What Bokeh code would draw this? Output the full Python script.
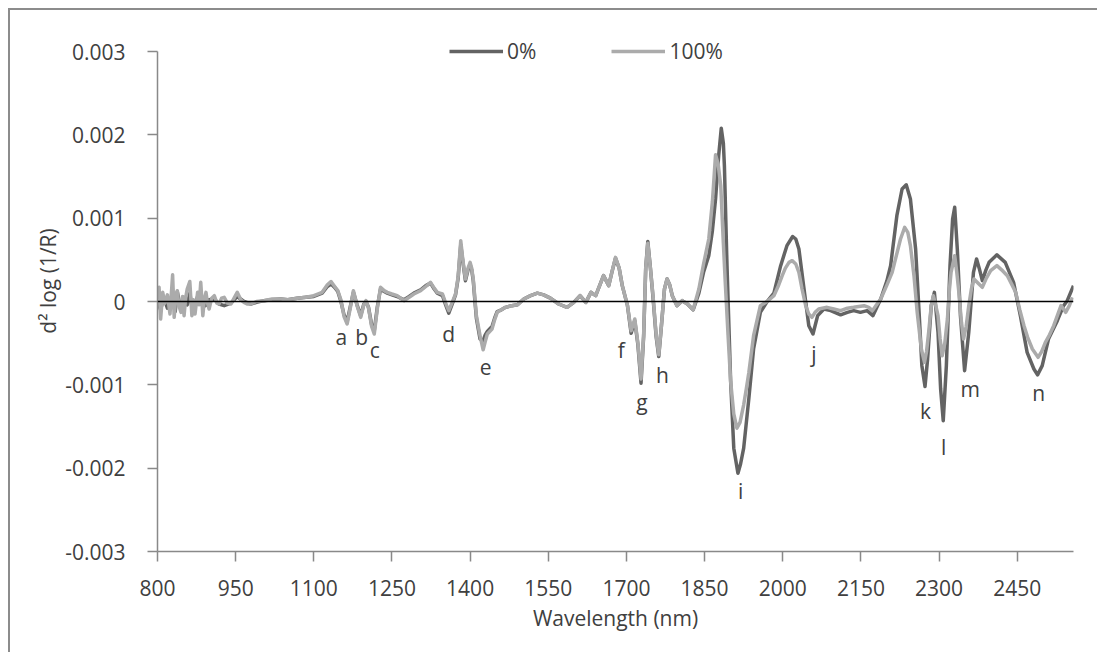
from bokeh.plotting import figure
from bokeh.models import (Range1d, FixedTicker, CustomJSTickFormatter, Span, Legend,
                          LegendItem, ColumnDataSource)
from bokeh.core.properties import value
from bokeh.embed import file_html
from bokeh.resources import INLINE

# ---------------- data ----------------
wl_100 = [800, 803, 806, 810, 814, 819, 824, 829, 832, 835, 838, 841, 845, 848, 851, 854, 857, 862,
          866, 869, 872, 877, 880, 883, 887, 890, 893, 896, 899, 904, 909, 914, 918, 923, 928, 934,
          941, 947, 953, 960, 966, 972, 979, 990, 1004, 1020, 1036, 1050, 1068, 1085, 1100, 1116,
          1126, 1133, 1140, 1146, 1152, 1158, 1164, 1170, 1176, 1183, 1190, 1196, 1200, 1205, 1211,
          1216, 1222, 1228, 1235, 1241, 1250, 1260, 1273, 1283, 1292, 1305, 1315, 1324, 1331, 1337,
          1347, 1353, 1359, 1365, 1372, 1377, 1382, 1386, 1391, 1396, 1400, 1403, 1406, 1409, 1412,
          1419, 1425, 1429, 1433, 1442, 1447, 1452, 1460, 1468, 1480, 1491, 1503, 1516, 1529, 1541,
          1554, 1570, 1586, 1599, 1611, 1622, 1632, 1641, 1656, 1666, 1672, 1679, 1686, 1692, 1702,
          1709, 1716, 1722, 1728, 1733, 1737, 1741, 1746, 1751, 1757, 1762, 1767, 1773, 1778, 1783,
          1788, 1797, 1807, 1817, 1828, 1839, 1848, 1858, 1865, 1871, 1876, 1881, 1886, 1890, 1895,
          1900, 1906, 1912, 1918, 1925, 1930, 1935, 1944, 1957, 1970, 1983, 1991, 1999, 2005, 2012,
          2018, 2025, 2031, 2037, 2044, 2050, 2056, 2062, 2069, 2085, 2098, 2111, 2124, 2136, 2156,
          2165, 2172, 2180, 2188, 2200, 2210, 2218, 2226, 2234, 2240, 2245, 2252, 2258, 2266, 2272,
          2276, 2280, 2285, 2289, 2293, 2298, 2302, 2306, 2311, 2316, 2320, 2323, 2330, 2334, 2338,
          2343, 2347, 2352, 2357, 2362, 2367, 2375, 2383, 2390, 2399, 2411, 2420, 2431, 2440, 2447,
          2455, 2463, 2470, 2479, 2490, 2497, 2504, 2512, 2520, 2527, 2534, 2539, 2543, 2550, 2556]
val_100 = [0.00003, 0.00017, -0.00021, 0.00011, -0.00002, 0.00008, -0.00015, 0.00032, -0.00019,
           0.00005, 0.00013, -0.00005, -0.00013, 0.00006, -0.00017, 0.00004, 0.00015, 0.00024,
           -0.00017, 0.00002, -0.00015, 0.00011, -0.00004, 0.00023, -0.00017, 0.00003, 0.00011,
           -0.00002, -0.00009, 0.00004, 0.00007, -0.00002, -0.00003, 0.00004, 0.00005, -0.00002,
           -0.00003, 0.00004, 0.00011, 0.00002, -0.00001, -0.00003, -0.00003, 0.00000, 0.00001,
           0.00003, 0.00003, 0.00002, 0.00004, 0.00005, 0.00007, 0.00011, 0.00020, 0.00024,
           0.00018, 0.00013, 0.00002, -0.00018, -0.00027, -0.00008, 0.00013, -0.00005, -0.00019,
           -0.00004, 0.00001, -0.00008, -0.00030, -0.00039, -0.00008, 0.00017, 0.00013, 0.00011,
           0.00009, 0.00007, 0.00001, 0.00005, 0.00009, 0.00013, 0.00018, 0.00023, 0.00016,
           0.00011, 0.00009, -0.00002, -0.00011, -0.00002, 0.00009, 0.00030, 0.00073, 0.00050,
           0.00027, 0.00040, 0.00047, 0.00040, 0.00027, 0.00005, -0.00017, -0.00041, -0.00058,
           -0.00048, -0.00039, -0.00033, -0.00022, -0.00013, -0.00010, -0.00007, -0.00005,
           -0.00004, 0.00003, 0.00007, 0.00010, 0.00008, 0.00004, -0.00003, -0.00007, -0.00001,
           0.00007, -0.00001, 0.00011, 0.00007, 0.00031, 0.00019, 0.00035, 0.00053, 0.00040,
           0.00019, -0.00005, -0.00035, -0.00021, -0.00050, -0.00093, -0.00040, 0.00040, 0.00070,
           0.00040, 0.00007, -0.00040, -0.00064, -0.00030, 0.00015, 0.00027, 0.00020, 0.00007,
           -0.00005, 0.00001, -0.00003, -0.00010, 0.00015, 0.00045, 0.00075, 0.00120, 0.00176,
           0.00165, 0.00139, 0.00070, 0.00019, -0.00040, -0.00096, -0.00135, -0.00152, -0.00145,
           -0.00124, -0.00105, -0.00085, -0.00041, -0.00005, 0.00000, 0.00007, 0.00018, 0.00031,
           0.00040, 0.00047, 0.00049, 0.00045, 0.00035, 0.00015, -0.00005, -0.00015, -0.00019,
           -0.00013, -0.00009, -0.00007, -0.00009, -0.00011, -0.00008, -0.00007, -0.00005,
           -0.00007, -0.00011, -0.00004, 0.00003, 0.00020, 0.00035, 0.00055, 0.00075, 0.00089,
           0.00083, 0.00067, 0.00030, -0.00013, -0.00057, -0.00073, -0.00060, -0.00037, -0.00005,
           0.00007, -0.00003, -0.00017, -0.00045, -0.00065, -0.00050, -0.00021, 0.00015, 0.00035,
           0.00055, 0.00035, 0.00011, -0.00025, -0.00045, -0.00030, -0.00005, 0.00015, 0.00027,
           0.00022, 0.00017, 0.00027, 0.00037, 0.00043, 0.00038, 0.00031, 0.00020, 0.00011,
           -0.00010, -0.00029, -0.00043, -0.00057, -0.00067, -0.00060, -0.00049, -0.00040,
           -0.00029, -0.00017, -0.00005, -0.00009, -0.00013, -0.00005, 0.00005]

wl_0 = [800, 806, 812, 819, 825, 829, 834, 838, 844, 851, 857, 862, 866, 871, 877, 883, 887, 892,
        899, 909, 918, 928, 941, 953, 966, 979, 990, 1004, 1020, 1036, 1050, 1068, 1085, 1100, 1116,
        1126, 1133, 1140, 1146, 1152, 1158, 1164, 1170, 1176, 1183, 1190, 1196, 1200, 1205, 1211,
        1216, 1222, 1228, 1235, 1241, 1250, 1260, 1273, 1283, 1292, 1305, 1315, 1324, 1331, 1337,
        1347, 1353, 1359, 1365, 1372, 1377, 1382, 1386, 1391, 1396, 1400, 1403, 1406, 1409, 1412,
        1419, 1425, 1429, 1433, 1442, 1447, 1452, 1460, 1468, 1480, 1491, 1503, 1516, 1529, 1541,
        1554, 1570, 1586, 1599, 1611, 1622, 1632, 1641, 1656, 1666, 1672, 1679, 1686, 1692, 1702,
        1709, 1716, 1722, 1728, 1733, 1737, 1741, 1746, 1751, 1757, 1762, 1767, 1773, 1778, 1783,
        1788, 1797, 1807, 1817, 1828, 1839, 1848, 1858, 1865, 1871, 1877, 1882, 1886, 1888, 1893,
        1900, 1906, 1914, 1919, 1925, 1935, 1944, 1957, 1970, 1983, 1996, 2008, 2019, 2025, 2031,
        2040, 2050, 2058, 2067, 2079, 2092, 2111, 2124, 2136, 2149, 2162, 2173, 2188, 2200, 2207,
        2219, 2229, 2237, 2245, 2255, 2262, 2267, 2273, 2278, 2285, 2291, 2298, 2303, 2308, 2314,
        2321, 2326, 2330, 2335, 2341, 2349, 2357, 2366, 2372, 2377, 2383, 2390, 2396, 2411, 2427,
        2443, 2456, 2469, 2482, 2489, 2498, 2510, 2527, 2539, 2546, 2558]
val_0 = [0.00000, -0.00010, 0.00005, -0.00008, 0.00002, 0.00008, -0.00012, 0.00012, -0.00008,
         0.00005, -0.00004, 0.00010, -0.00006, -0.00005, 0.00006, 0.00008, -0.00006, -0.00005,
         0.00002, 0.00003, -0.00003, -0.00005, -0.00002, 0.00006, 0.00000, -0.00003, -0.00001,
         0.00001, 0.00002, 0.00003, 0.00002, 0.00004, 0.00005, 0.00006, 0.00010, 0.00018, 0.00021,
         0.00017, 0.00012, 0.00000, -0.00016, -0.00024, -0.00006, 0.00011, -0.00004, -0.00017,
         -0.00003, 0.00000, -0.00007, -0.00028, -0.00035, -0.00006, 0.00015, 0.00012, 0.00010,
         0.00008, 0.00006, 0.00002, 0.00006, 0.00010, 0.00014, 0.00019, 0.00022, 0.00015, 0.00010,
         0.00007, -0.00004, -0.00014, -0.00004, 0.00008, 0.00028, 0.00068, 0.00048, 0.00025,
         0.00038, 0.00044, 0.00038, 0.00025, 0.00002, -0.00020, -0.00045, -0.00047, -0.00040,
         -0.00036, -0.00030, -0.00020, -0.00012, -0.00010, -0.00007, -0.00005, -0.00004, 0.00003,
         0.00007, 0.00010, 0.00008, 0.00004, -0.00003, -0.00007, -0.00001, 0.00007, -0.00001,
         0.00011, 0.00007, 0.00031, 0.00019, 0.00035, 0.00052, 0.00040, 0.00019, -0.00005,
         -0.00038, -0.00023, -0.00052, -0.00098, -0.00042, 0.00040, 0.00072, 0.00040, 0.00005,
         -0.00042, -0.00066, -0.00030, 0.00015, 0.00027, 0.00020, 0.00007, -0.00005, 0.00001,
         -0.00003, -0.00010, 0.00010, 0.00035, 0.00055, 0.00085, 0.00123, 0.00175, 0.00208,
         0.00190, 0.00163, 0.00043, -0.00096, -0.00176, -0.00206, -0.00195, -0.00176, -0.00116,
         -0.00057, -0.00013, 0.00000, 0.00010, 0.00043, 0.00067, 0.00078, 0.00075, 0.00063,
         0.00019, -0.00029, -0.00039, -0.00017, -0.00009, -0.00011, -0.00016, -0.00013, -0.00011,
         -0.00013, -0.00011, -0.00017, 0.00003, 0.00025, 0.00043, 0.00103, 0.00135, 0.00140,
         0.00123, 0.00063, -0.00017, -0.00077, -0.00102, -0.00069, -0.00005, 0.00011, -0.00037,
         -0.00105, -0.00143, -0.00077, 0.00043, 0.00099, 0.00113, 0.00063, -0.00017, -0.00083,
         -0.00037, 0.00035, 0.00051, 0.00040, 0.00025, 0.00038, 0.00047, 0.00056, 0.00047,
         0.00023, -0.00017, -0.00061, -0.00081, -0.00088, -0.00077, -0.00045, -0.00023, -0.00005,
         0.00001, 0.00019]

band_text = ["a", "b", "c", "d", "e", "f", "g", "h", "i", "j", "k", "l", "m", "n"]
band_x = [1153, 1192, 1217, 1359, 1430, 1690, 1730, 1769, 1919, 2060, 2274, 2309, 2360, 2491]
band_y = [-0.00042, -0.00042, -0.00058, -0.00039, -0.00078, -0.00058, -0.00121, -0.00088,
          -0.00227, -0.00063, -0.00131, -0.00175, -0.00105, -0.00110]

x_ticks = [800, 950, 1100, 1250, 1400, 1550, 1700, 1850, 2000, 2150, 2300, 2450]
y_ticks = [-0.003, -0.002, -0.001, 0, 0.001, 0.002, 0.003]

series_names = ["0%", "100%"]
series_colors = ["#636363", "#ababab"]

# ---------------- figure ----------------
FONT = "Open Sans"
TXT = "#404040"
AX = "#898989"

# frame: bottom 103 px above canvas bottom, top at canvas top (room for legend)
y_top = -0.003 + 0.006 * 541 / 500

p = figure(width=1089, height=644, output_backend="svg", toolbar_location=None,
           x_range=Range1d(800, 2558), y_range=Range1d(-0.003, y_top),
           min_border_left=147, min_border_right=26, min_border_top=0, min_border_bottom=103,
           background_fill_color="white", border_fill_color="white")
p.margin = (8, 0, 0, 8)
p.styles = {"border-left": "2px solid #8c8c8c", "border-top": "2px solid #8c8c8c"}
p.outline_line_color = None
p.grid.visible = False

r0 = p.line(wl_0, val_0, line_color=series_colors[0], line_width=3.5, line_join="round")
r1 = p.line(wl_100, val_100, line_color=series_colors[1], line_width=3.5, line_join="round")

p.add_layout(Span(location=0, dimension="width", line_color="black", line_width=1.5))

src = ColumnDataSource(dict(x=band_x, y=band_y, t=band_text))
p.text(x="x", y="y", text="t", source=src, text_font=value(FONT), text_font_size="21px",
       text_color=TXT, text_align="center", text_baseline="middle")

for ax in (p.xaxis[0], p.yaxis[0]):
    ax.axis_line_color = AX
    ax.axis_line_width = 1.5
    ax.major_tick_line_color = AX
    ax.major_tick_line_width = 1.5
    ax.major_tick_in = 0
    ax.major_tick_out = 10
    ax.minor_tick_line_color = None
    ax.major_label_text_font = FONT
    ax.major_label_text_font_size = "21px"
    ax.major_label_text_color = TXT
    ax.axis_label_text_font = FONT
    ax.axis_label_text_font_size = "21px"
    ax.axis_label_text_color = TXT
    ax.axis_label_text_font_style = "normal"

p.yaxis.bounds = (-0.003, 0.003)
p.xaxis.ticker = FixedTicker(ticks=x_ticks)
p.yaxis.ticker = FixedTicker(ticks=y_ticks)
p.yaxis.formatter = CustomJSTickFormatter(code="return tick == 0 ? '0' : tick.toFixed(3);")
p.xaxis.major_label_standoff = 18
p.yaxis.major_label_standoff = 22
p.xaxis.axis_label = "Wavelength (nm)"
p.yaxis.axis_label = "d\u00b2 log (1/R)"
p.xaxis.axis_label_standoff = 5
p.yaxis.axis_label_standoff = 0

legend = Legend(items=[LegendItem(label=series_names[0], renderers=[r0]),
                       LegendItem(label=series_names[1], renderers=[r1])],
                orientation="horizontal", location=(292, 486),
                glyph_width=54, glyph_height=20, label_standoff=4, spacing=75,
                padding=0, margin=0, border_line_alpha=0, background_fill_alpha=0,
                label_text_font=FONT, label_text_font_size="21px", label_text_color=TXT)
p.add_layout(legend, "center")

open("out.html", "w").write(file_html(p, INLINE))
